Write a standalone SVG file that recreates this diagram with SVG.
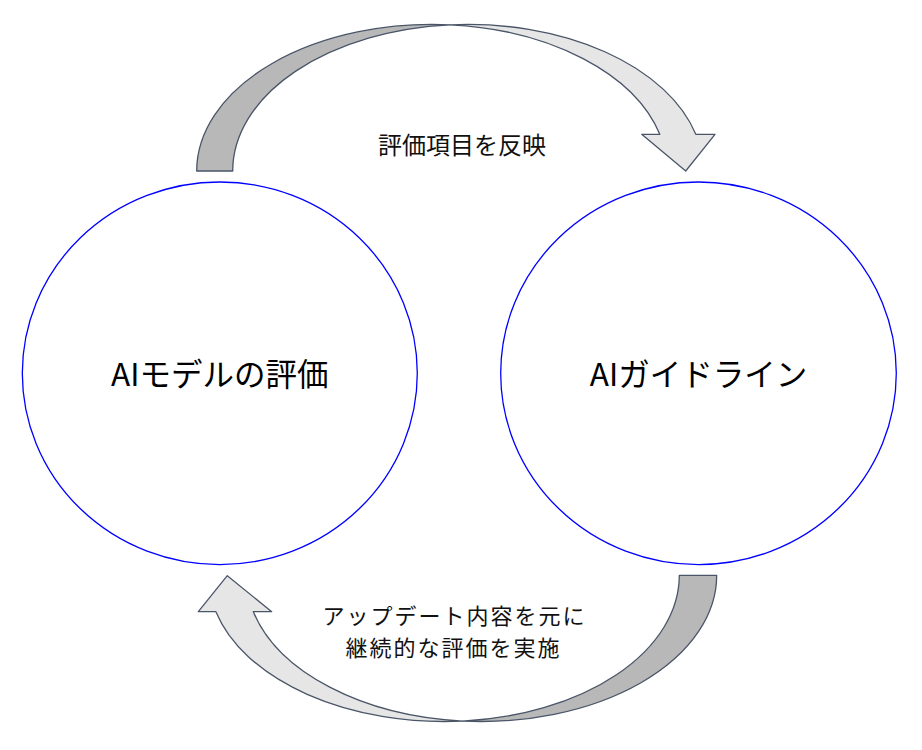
<svg xmlns="http://www.w3.org/2000/svg" width="922" height="750" viewBox="0 0 922 750">
  <style>
    .node { fill: #ffffff; stroke: #0000ff; stroke-width: 1.3; }
    .dark { fill: #b8b8b8; stroke: #4a5568; stroke-width: 1.3; stroke-linejoin: round; }
    .light { fill: #e6e6e6; stroke: #4a5568; stroke-width: 1.3; stroke-linejoin: round; }
    .big { font-family: "Noto Sans CJK JP", "Noto Sans", sans-serif; font-size: 31.5px; fill: #000000; text-anchor: middle; }
    .lbl { font-family: "Noto Sans CJK JP", "Noto Sans", sans-serif; font-size: 24px; fill: #111111; text-anchor: middle; }
    .lbl2 { font-family: "Noto Sans CJK JP", "Noto Sans", sans-serif; font-size: 22px; letter-spacing: 2px; fill: #111111; text-anchor: middle; }
  </style>
  <rect width="922" height="750" fill="#ffffff"/>
  <g id="connectors">
    <g id="arrow-top">
      <path class="dark" d="M196.7,171 A235.3,146.6 0 0 1 450,24.83 A235.3,146.6 0 0 0 232.7,171 Z"/>
      <path class="light" d="M450,24.83 A235.3,146.6 0 0 1 695.8,134.3 L715,134.3 L685.7,171 L641.7,134.3 L659.8,134.3 A235.3,146.6 0 0 0 450,24.83 Z"/>
      <text class="lbl" x="462" y="154">評価項目を反映</text>
    </g>
    <g id="arrow-bottom">
      <path class="dark" d="M716.7,575.3 A235.4,146.2 0 0 1 462.6,721.04 A235.4,146.2 0 0 0 679.3,575.3 Z"/>
      <path class="light" d="M462.6,721.04 A235.4,146.2 0 0 1 215.9,611.7 L198.3,611.7 L227.3,575.7 L271.7,611.7 L253.3,611.7 A235.4,146.2 0 0 0 462.6,721.04 Z"/>
      <text class="lbl2" x="454.5" y="624">アップデート内容を元に</text>
      <text class="lbl2" x="453.5" y="656">継続的な評価を実施</text>
    </g>
  </g>
  <g id="node-eval">
    <ellipse class="node" cx="219.8" cy="373.3" rx="197.5" ry="191.3"/>
    <text class="big" x="219.8" y="386">AIモデルの評価</text>
  </g>
  <g id="node-guideline">
    <ellipse class="node" cx="698.5" cy="373.3" rx="197.8" ry="191.3"/>
    <text class="big" x="698.5" y="386">AIガイドライン</text>
  </g>
</svg>
